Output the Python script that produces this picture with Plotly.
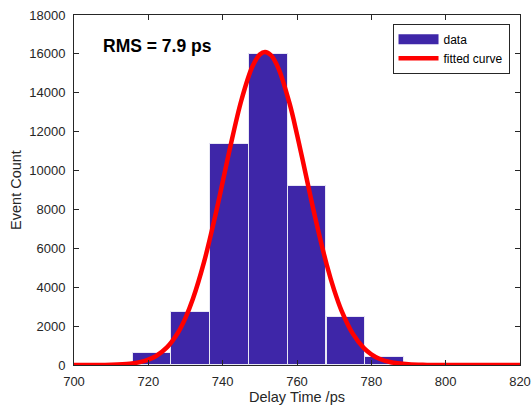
import plotly.graph_objects as go

# Histogram data
bin_centers = [721.0, 731.4, 741.9, 752.3, 762.7, 773.2, 783.6]
bin_width = 10.44
counts = [600, 2730, 11360, 15980, 9220, 2490, 430]

# Fitted curve points
fit_x = [700, 705, 710, 715, 718, 720, 722, 725, 728, 730, 732, 735, 738, 740, 742,
         745, 748, 750, 751.4, 753, 755, 758, 760, 762, 765, 768, 770, 772, 775, 778,
         780, 782, 785, 790, 795, 800, 810, 820]
fit_y = [0, 2, 14, 67, 160, 274, 452, 904, 1674, 2427, 3402, 5300, 7664, 9410, 11174,
         13590, 15350, 15970, 16100, 15930, 15260, 13450, 11860, 10120, 7500, 5155, 3853, 2788, 1613, 865,
         548, 336, 152, 34, 6, 1, 0, 0]

x_ticks = [700, 720, 740, 760, 780, 800, 820]
y_ticks = [0, 2000, 4000, 6000, 8000, 10000, 12000, 14000, 16000, 18000]

axis_color = "#262626"
bar_color = "rgb(62,38,168)"
font_family = "Liberation Sans, Arial, sans-serif"

fig = go.Figure()
fig.add_trace(go.Bar(
    x=bin_centers, y=counts, width=bin_width, name="data", showlegend=False,
    marker=dict(color=bar_color, line=dict(color="#e8e8f4", width=1)),
))
# legend swatch for the histogram (wide patch like the reference)
fig.add_trace(go.Scatter(
    x=[None], y=[None], mode="lines", name="data",
    line=dict(color=bar_color, width=10),
))
fig.add_trace(go.Scatter(
    x=fit_x, y=fit_y, mode="lines", name="fitted curve",
    line=dict(color="#ff0000", width=4.5, shape="spline"),
))

fig.add_annotation(
    x=0.06, y=0.91, xref="paper", yref="paper", xanchor="left", yanchor="middle",
    text="<b>RMS = 7.9 ps</b>", showarrow=False,
    font=dict(family=font_family, size=17.5, color="black"),
)

fig.update_layout(
    width=532, height=406,
    margin=dict(l=74, r=12, t=15, b=41),
    plot_bgcolor="white", paper_bgcolor="white",
    font=dict(family=font_family, size=13, color=axis_color),
    bargap=0,
    showlegend=True,
    legend=dict(
        x=0.9765, y=0.975, xanchor="right", yanchor="top",
        bgcolor="white", bordercolor=axis_color, borderwidth=1,
        font=dict(family=font_family, size=12, color="black"),
        tracegroupgap=0, itemwidth=40,
    ),
    xaxis=dict(
        range=[700, 820], tickvals=x_ticks, ticktext=[str(v) for v in x_ticks],
        showgrid=False, zeroline=False, showline=True, linecolor=axis_color, linewidth=1,
        mirror="ticks", ticks="inside", ticklen=5, tickcolor=axis_color,
        automargin=False, ticklabelstandoff=4,
        title=dict(text="Delay Time /ps", standoff=4, font=dict(size=14.5)),
    ),
    yaxis=dict(
        range=[0, 18000], tickvals=y_ticks, ticktext=[str(v) for v in y_ticks],
        showgrid=False, zeroline=False, showline=True, linecolor=axis_color, linewidth=1,
        mirror="ticks", ticks="inside", ticklen=5, tickcolor=axis_color,
        automargin=False, ticklabelstandoff=5,
        title=dict(text="Event Count", standoff=4, font=dict(size=14.5)),
    ),
)

fig.write_html("out.html")
